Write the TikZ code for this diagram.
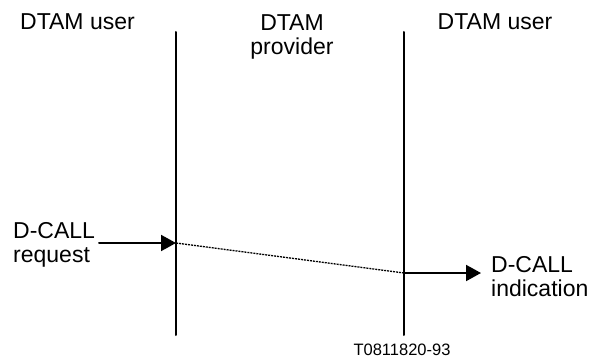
\documentclass[tikz,border=0pt]{standalone}
\usepackage{fontspec}
\setmainfont{Liberation Sans}
\usetikzlibrary{arrows.meta}

\begin{document}
\begin{tikzpicture}[line cap=round,line join=round,>={Triangle[length=15pt,width=16pt]},x=1pt,y=-1pt,
  lbl/.style={inner sep=0pt,font=\fontsize{23}{24}\selectfont,align=left}]
\useasboundingbox (0,0) rectangle (591,361);

% time lines
\coordinate (la) at (176,32);
\coordinate (lz) at (176,335);
\coordinate (ra) at (404,32);
\coordinate (rz) at (404,335);
\draw[line width=2pt] (la)-- (lz);
\draw[line width=2pt] (ra)-- (rz);

% primitives
\coordinate (reqin) at (99,243);
\coordinate (reqat) at (176,243);
\coordinate (indat) at (404,273);
\coordinate (indout) at (481,273);
\draw[->,line width=2pt] (reqin)-- (reqat);
\draw[line cap=butt,dash pattern=on 2pt off 1pt,line width=1.3pt] (reqat)-- (indat);
\draw[->,line width=2pt] (indat)-- (indout);

% labels
\node[lbl,anchor=base west] (userl) at (20,30) {DTAM user};
\node[lbl,anchor=base,align=center] (prov) at (292,55) {DTAM\\provider};
\node[lbl,anchor=base] (userr) at (495,30) {DTAM user};
\node[lbl,anchor=base west] (req) at (13,262) {D-CALL\\request};
\node[lbl,anchor=base west] (ind) at (491,296) {D-CALL\\indication};
\node[inner sep=0pt,font=\fontsize{16.5}{19}\selectfont,anchor=base] (fig) at (402,355) {T0811820-93};
\end{tikzpicture}
\end{document}
